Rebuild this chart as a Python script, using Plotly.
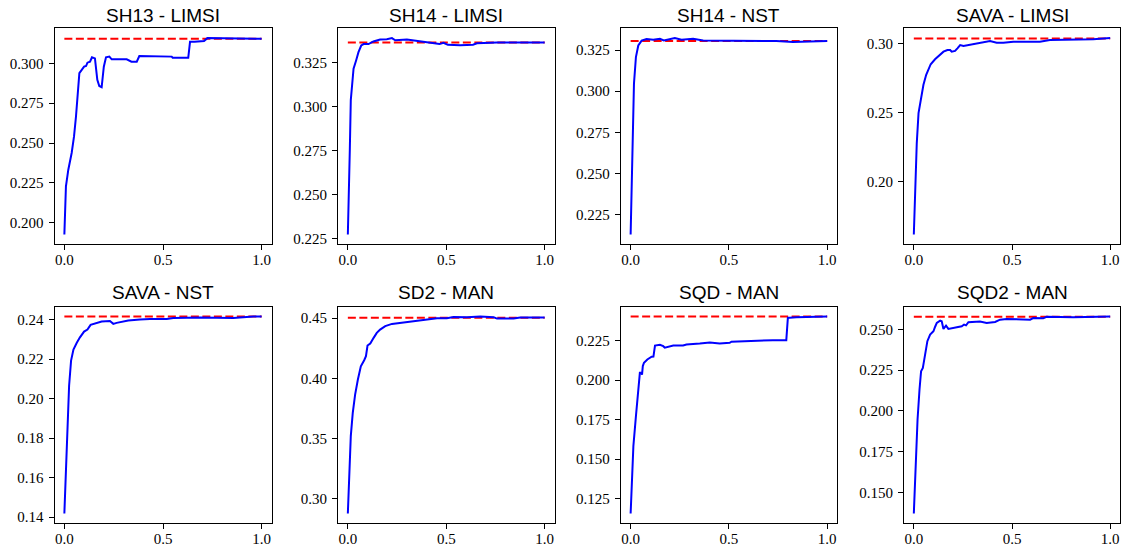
import plotly.graph_objects as go

# ---------------- data ----------------
titles = ["SH13 - LIMSI", "SH14 - LIMSI", "SH14 - NST", "SAVA - LIMSI",
          "SAVA - NST", "SD2 - MAN", "SQD - MAN", "SQD2 - MAN"]

sh13_limsi_x = [0, 0.008, 0.02, 0.037, 0.049, 0.059, 0.076, 0.088, 0.10, 0.11, 0.117, 0.13, 0.14,
                0.155, 0.167, 0.177, 0.189, 0.20, 0.211, 0.228, 0.24, 0.316, 0.34, 0.367, 0.38,
                0.544, 0.549, 0.628, 0.637, 0.66, 0.708, 0.725, 1.0]
sh13_limsi_y = [0.1927, 0.2229, 0.2333, 0.2438, 0.2542, 0.2667, 0.2938, 0.2958, 0.2979, 0.2983,
                0.3004, 0.3010, 0.3038, 0.3031, 0.2896, 0.2858, 0.2850, 0.2979, 0.3038, 0.3042,
                0.3025, 0.3025, 0.3010, 0.3010, 0.3046, 0.3042, 0.3035, 0.3035, 0.3135, 0.3135,
                0.3140, 0.3158, 0.3154]
sh13_limsi_ref = 0.3154

sh14_limsi_x = [0, 0.005, 0.010, 0.015, 0.022, 0.029, 0.042, 0.054, 0.068, 0.08, 0.105, 0.13, 0.164,
                0.198, 0.224, 0.241, 0.30, 0.368, 0.436, 0.466, 0.486, 0.508, 0.571, 0.636, 0.656,
                0.758, 1.0]
sh14_limsi_y = [0.2273, 0.2471, 0.2754, 0.3037, 0.3131, 0.3216, 0.3263, 0.3310, 0.3348, 0.3356,
                0.3356, 0.3371, 0.3382, 0.3384, 0.3390, 0.3378, 0.3382, 0.3373, 0.3361, 0.3356,
                0.3363, 0.3352, 0.3350, 0.3352, 0.3361, 0.3365, 0.3365]
sh14_limsi_ref = 0.3365

sh14_nst_x = [0, 0.005, 0.010, 0.017, 0.027, 0.039, 0.056, 0.081, 0.115, 0.149, 0.169, 0.20, 0.225,
              0.259, 0.318, 0.369, 0.453, 0.572, 0.741, 0.826, 1.0]
sh14_nst_y = [0.2129, 0.2442, 0.2784, 0.3046, 0.3208, 0.3278, 0.3308, 0.3317, 0.3313, 0.3319,
              0.3309, 0.3319, 0.3323, 0.3313, 0.3319, 0.3309, 0.3309, 0.3305, 0.3305, 0.3300, 0.3305]
sh14_nst_ref = 0.3305

sava_limsi_x = [0, 0.007, 0.015, 0.024, 0.036, 0.049, 0.063, 0.075, 0.086, 0.108, 0.131, 0.151,
                0.171, 0.185, 0.193, 0.21, 0.222, 0.236, 0.253, 0.303, 0.354, 0.388, 0.422, 0.456,
                0.507, 0.642, 0.693, 0.812, 0.914, 1.0]
sava_limsi_y = [0.1616, 0.1988, 0.2276, 0.2495, 0.2603, 0.2700, 0.2772, 0.2808, 0.2849, 0.2885,
                0.2916, 0.2940, 0.2952, 0.2952, 0.2940, 0.2945, 0.2964, 0.2988, 0.2981, 0.2993,
                0.3005, 0.3017, 0.3005, 0.3005, 0.3012, 0.3012, 0.3024, 0.3024, 0.3029, 0.3038]
sava_limsi_ref = 0.3036

sava_nst_x = [0, 0.007, 0.015, 0.024, 0.034, 0.046, 0.063, 0.079, 0.10, 0.117, 0.133, 0.164, 0.189,
              0.231, 0.248, 0.265, 0.299, 0.324, 0.383, 0.434, 0.519, 0.552, 0.688, 0.856, 0.958, 1.0]
sava_nst_y = [0.1419, 0.1642, 0.1896, 0.2065, 0.2192, 0.2248, 0.2282, 0.2310, 0.2339, 0.2349,
              0.2373, 0.2381, 0.2390, 0.2392, 0.2378, 0.2383, 0.2390, 0.2395, 0.2400, 0.2403,
              0.2403, 0.2408, 0.2410, 0.2408, 0.2415, 0.2415]
sava_nst_ref = 0.2415

sd2_man_x = [0, 0.007, 0.015, 0.025, 0.037, 0.051, 0.066, 0.083, 0.092, 0.10, 0.114, 0.131, 0.147,
             0.164, 0.19, 0.224, 0.266, 0.317, 0.368, 0.419, 0.453, 0.503, 0.537, 0.605, 0.673,
             0.741, 0.758, 0.842, 0.876, 1.0]
sd2_man_y = [0.2878, 0.3243, 0.3520, 0.3714, 0.3866, 0.3991, 0.4100, 0.4151, 0.4184, 0.4273,
             0.4290, 0.4337, 0.4378, 0.4406, 0.4434, 0.4453, 0.4461, 0.4470, 0.4481, 0.4494,
             0.4500, 0.4500, 0.4511, 0.4508, 0.4514, 0.4508, 0.4497, 0.4497, 0.4506, 0.4506]
sd2_man_ref = 0.4503

sqd_man_x = [0, 0.005, 0.014, 0.027, 0.039, 0.047, 0.054, 0.058, 0.062, 0.068, 0.085, 0.107, 0.116,
             0.124, 0.149, 0.166, 0.174, 0.191, 0.217, 0.267, 0.284, 0.352, 0.403, 0.453, 0.504,
             0.513, 0.606, 0.724, 0.792, 0.80, 0.81, 0.843, 1.0]
sqd_man_y = [0.1155, 0.1349, 0.1582, 0.1772, 0.1920, 0.2047, 0.2047, 0.2036, 0.2090, 0.2111,
             0.2132, 0.2149, 0.2150, 0.2220, 0.2225, 0.2216, 0.2206, 0.2210, 0.2220, 0.2220,
             0.2227, 0.2233, 0.2240, 0.2233, 0.2237, 0.2244, 0.2250, 0.2254, 0.2254, 0.2396,
             0.2396, 0.2400, 0.2404]
sqd_man_ref = 0.2404

sqd2_man_x = [0, 0.008, 0.019, 0.029, 0.037, 0.046, 0.058, 0.069, 0.083, 0.10, 0.108, 0.117, 0.134,
              0.142, 0.151, 0.164, 0.176, 0.21, 0.244, 0.256, 0.266, 0.278, 0.337, 0.371, 0.414,
              0.439, 0.473, 0.592, 0.608, 0.659, 0.676, 0.812, 1.0]
sqd2_man_y = [0.1371, 0.1641, 0.1947, 0.2131, 0.2243, 0.2263, 0.2355, 0.2427, 0.2467, 0.2488,
              0.2514, 0.2539, 0.2553, 0.2549, 0.2502, 0.2522, 0.2502, 0.2508, 0.2518, 0.2529,
              0.2524, 0.2543, 0.2547, 0.2539, 0.2545, 0.2559, 0.2563, 0.2559, 0.2569, 0.2567,
              0.2576, 0.2574, 0.2578]
sqd2_man_ref = 0.2576

series_x = [sh13_limsi_x, sh14_limsi_x, sh14_nst_x, sava_limsi_x,
            sava_nst_x, sd2_man_x, sqd_man_x, sqd2_man_x]
series_y = [sh13_limsi_y, sh14_limsi_y, sh14_nst_y, sava_limsi_y,
            sava_nst_y, sd2_man_y, sqd_man_y, sqd2_man_y]
refs = [sh13_limsi_ref, sh14_limsi_ref, sh14_nst_ref, sava_limsi_ref,
        sava_nst_ref, sd2_man_ref, sqd_man_ref, sqd2_man_ref]

y_dticks = [0.025, 0.025, 0.025, 0.05, 0.02, 0.05, 0.025, 0.025]
y_formats = [".3f", ".3f", ".3f", ".2f", ".2f", ".2f", ".3f", ".3f"]
x_tickvals = [0.0, 0.5, 1.0]

# ---------------- layout ----------------
# The page body has an 8px default margin, so the figure origin is at (8, 8)
OFF = 8
W, H = 1117, 545
col_px = [(54.5, 271.5), (338, 554.5), (620.8, 837), (904, 1120)]
row_px = [(28.3, 244.3), (306.7, 523.3)]
title_y_px = [15.5, 292.5]

fig = go.Figure()
annotations = []
axes_layout = {}
for i in range(8):
    r, c = divmod(i, 4)
    n = i + 1
    xa = "x" if n == 1 else f"x{n}"
    ya = "y" if n == 1 else f"y{n}"
    suffix = "" if n == 1 else str(n)
    xs, ys = series_x[i], series_y[i]
    fig.add_trace(go.Scatter(x=[0, 1], y=[refs[i], refs[i]], mode="lines",
                             line=dict(color="#ff0000", width=2, dash="8px,3.5px"),
                             xaxis=xa, yaxis=ya, showlegend=False, hoverinfo="skip"))
    fig.add_trace(go.Scatter(x=xs, y=ys, mode="lines",
                             line=dict(color="#0000ff", width=2),
                             xaxis=xa, yaxis=ya, showlegend=False))
    lo = min(min(ys), refs[i])
    hi = max(max(ys), refs[i])
    pad = 0.05 * (hi - lo)
    x0, x1 = [(p - OFF) / W for p in col_px[c]]
    y0, y1 = [(p - OFF) / H for p in row_px[r]]
    axes_layout["xaxis" + suffix] = dict(
        domain=[x0, x1], range=[-0.05, 1.05],
        tickvals=x_tickvals, tickformat=".1f", anchor=ya)
    axes_layout["yaxis" + suffix] = dict(
        domain=[1 - y1, 1 - y0], range=[lo - pad, hi + pad],
        tick0=0, dtick=y_dticks[i], tickformat=y_formats[i], anchor=xa)
    annotations.append(dict(text=titles[i], x=(x0 + x1) / 2,
                            y=1 - (title_y_px[r] - OFF) / H,
                            xref="paper", yref="paper", xanchor="center", yanchor="middle",
                            showarrow=False,
                            font=dict(family="Liberation Sans", size=19, color="black")))

fig.update_layout(template="none", width=W, height=H, margin=dict(l=0, r=0, t=0, b=0),
                  paper_bgcolor="white", plot_bgcolor="white",
                  annotations=annotations, showlegend=False, **axes_layout)
common = dict(showgrid=False, zeroline=False, showline=True, linecolor="black",
              linewidth=1, mirror=True, ticks="outside", ticklen=5, tickwidth=1,
              tickcolor="black", automargin=False,
              tickfont=dict(family="Liberation Serif", size=15, color="black"))
fig.update_xaxes(**common, ticklabelstandoff=-3)
fig.update_yaxes(**common, ticklabelstandoff=2)

fig.write_html("out.html")
